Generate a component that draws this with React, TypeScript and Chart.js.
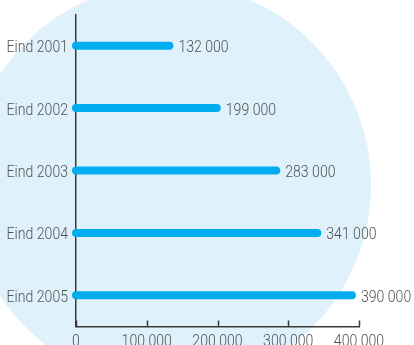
import React, { useEffect, useRef } from "react";
import { Chart, registerables } from "chart.js";

Chart.register(...registerables);

const categories = ["Eind 2001", "Eind 2002", "Eind 2003", "Eind 2004", "Eind 2005"];
const values = [132000, 199000, 283000, 341000, 390000];
const xTicks = [0, 100000, 200000, 300000, 400000];

const BAR_COLOR = "#00aeef";
const CIRCLE_COLOR = "#dff1fa";
const TEXT_COLOR = "#505254";
const AXIS_COLOR = "#3a3a3a";
const FONT = "300 16px Roboto, 'DejaVu Sans', sans-serif";
const TEXT_SQUEEZE = 0.88;
const BAR_WIDTH = 8;

const fmt = (v: number) => String(v).replace(/\B(?=(\d{3})+(?!\d))/g, " ");

function drawText(ctx: CanvasRenderingContext2D, text: string, x: number, y: number, align: CanvasTextAlign) {
  ctx.save();
  ctx.translate(x, y);
  ctx.scale(TEXT_SQUEEZE, 1);
  ctx.font = FONT;
  ctx.fillStyle = TEXT_COLOR;
  ctx.textAlign = align;
  ctx.textBaseline = "alphabetic";
  ctx.fillText(text, 0, 0);
  ctx.restore();
}

const backgroundCircle = {
  id: "backgroundCircle",
  beforeDraw(chart: any) {
    const ctx = chart.ctx;
    ctx.save();
    ctx.fillStyle = CIRCLE_COLOR;
    ctx.beginPath();
    ctx.arc(169, 185, 202, 0, Math.PI * 2);
    ctx.fill();
    ctx.restore();
  },
};

const roundBars = {
  id: "roundBars",
  beforeDatasetDraw(chart: any, args: any) {
    const ctx = chart.ctx;
    ctx.save();
    ctx.lineCap = "round";
    ctx.lineWidth = BAR_WIDTH;
    ctx.strokeStyle = BAR_COLOR;
    args.meta.data.forEach((el: any) => {
      ctx.beginPath();
      ctx.moveTo(el.base, el.y);
      ctx.lineTo(el.x, el.y);
      ctx.stroke();
    });
    ctx.restore();
    return false;
  },
  afterDatasetsDraw(chart: any) {
    const ctx = chart.ctx;
    const meta = chart.getDatasetMeta(0);
    meta.data.forEach((el: any, i: number) => {
      drawText(ctx, fmt(values[i]), el.x + BAR_WIDTH / 2 + 5, el.y + 6.5, "left");
    });
  },
  afterDraw(chart: any) {
    const ctx = chart.ctx;
    const xs = chart.scales.x;
    const ys = chart.scales.y;
    const bottom = chart.chartArea.bottom;
    ctx.save();
    ctx.strokeStyle = AXIS_COLOR;
    ctx.lineWidth = 1.5;
    xs.ticks.forEach((t: any) => {
      const px = Math.round(xs.getPixelForValue(t.value)) + 0.5;
      ctx.beginPath();
      ctx.moveTo(px, bottom);
      ctx.lineTo(px, bottom - 6);
      ctx.stroke();
    });
    ctx.restore();
    xs.ticks.forEach((t: any) => {
      drawText(ctx, fmt(t.value), xs.getPixelForValue(t.value), bottom + 19, "center");
    });
    categories.forEach((c, i) => {
      drawText(ctx, c, ys.left + ys.width - 8, ys.getPixelForTick(i) + 6.5, "right");
    });
  },
};

export default function App() {
  const ref = useRef<HTMLCanvasElement | null>(null);
  useEffect(() => {
    if (!ref.current) return;
    const chart = new Chart(ref.current, {
      type: "bar",
      data: {
        labels: categories,
        datasets: [
          {
            data: values,
            backgroundColor: BAR_COLOR,
            barThickness: BAR_WIDTH,
          },
        ],
      },
      options: {
        indexAxis: "y",
        responsive: false,
        animation: false,
        layout: { padding: { top: 14.5, right: 55, left: 0, bottom: 0 } },
        plugins: { legend: { display: false }, tooltip: { enabled: false } },
        scales: {
          x: {
            min: 0,
            max: 400000,
            afterBuildTicks: (scale: any) => {
              scale.ticks = xTicks.map((v) => ({ value: v }));
            },
            afterFit: (scale: any) => {
              scale.height = 18.5;
            },
            grid: { display: false, drawTicks: false },
            border: { display: true, color: AXIS_COLOR, width: 1.5 },
            ticks: { display: false },
          },
          y: {
            afterFit: (scale: any) => {
              scale.width = 76;
            },
            grid: { display: false, drawTicks: false },
            border: { display: true, color: AXIS_COLOR, width: 1.5 },
            ticks: { display: false },
          },
        },
      },
      plugins: [backgroundCircle, roundBars],
    });
    return () => chart.destroy();
  }, []);
  return (
    <div style={{ position: "fixed", left: 0, top: 0, width: 414, height: 345 }}>
      <canvas ref={ref} width={414} height={345} />
    </div>
  );
}
